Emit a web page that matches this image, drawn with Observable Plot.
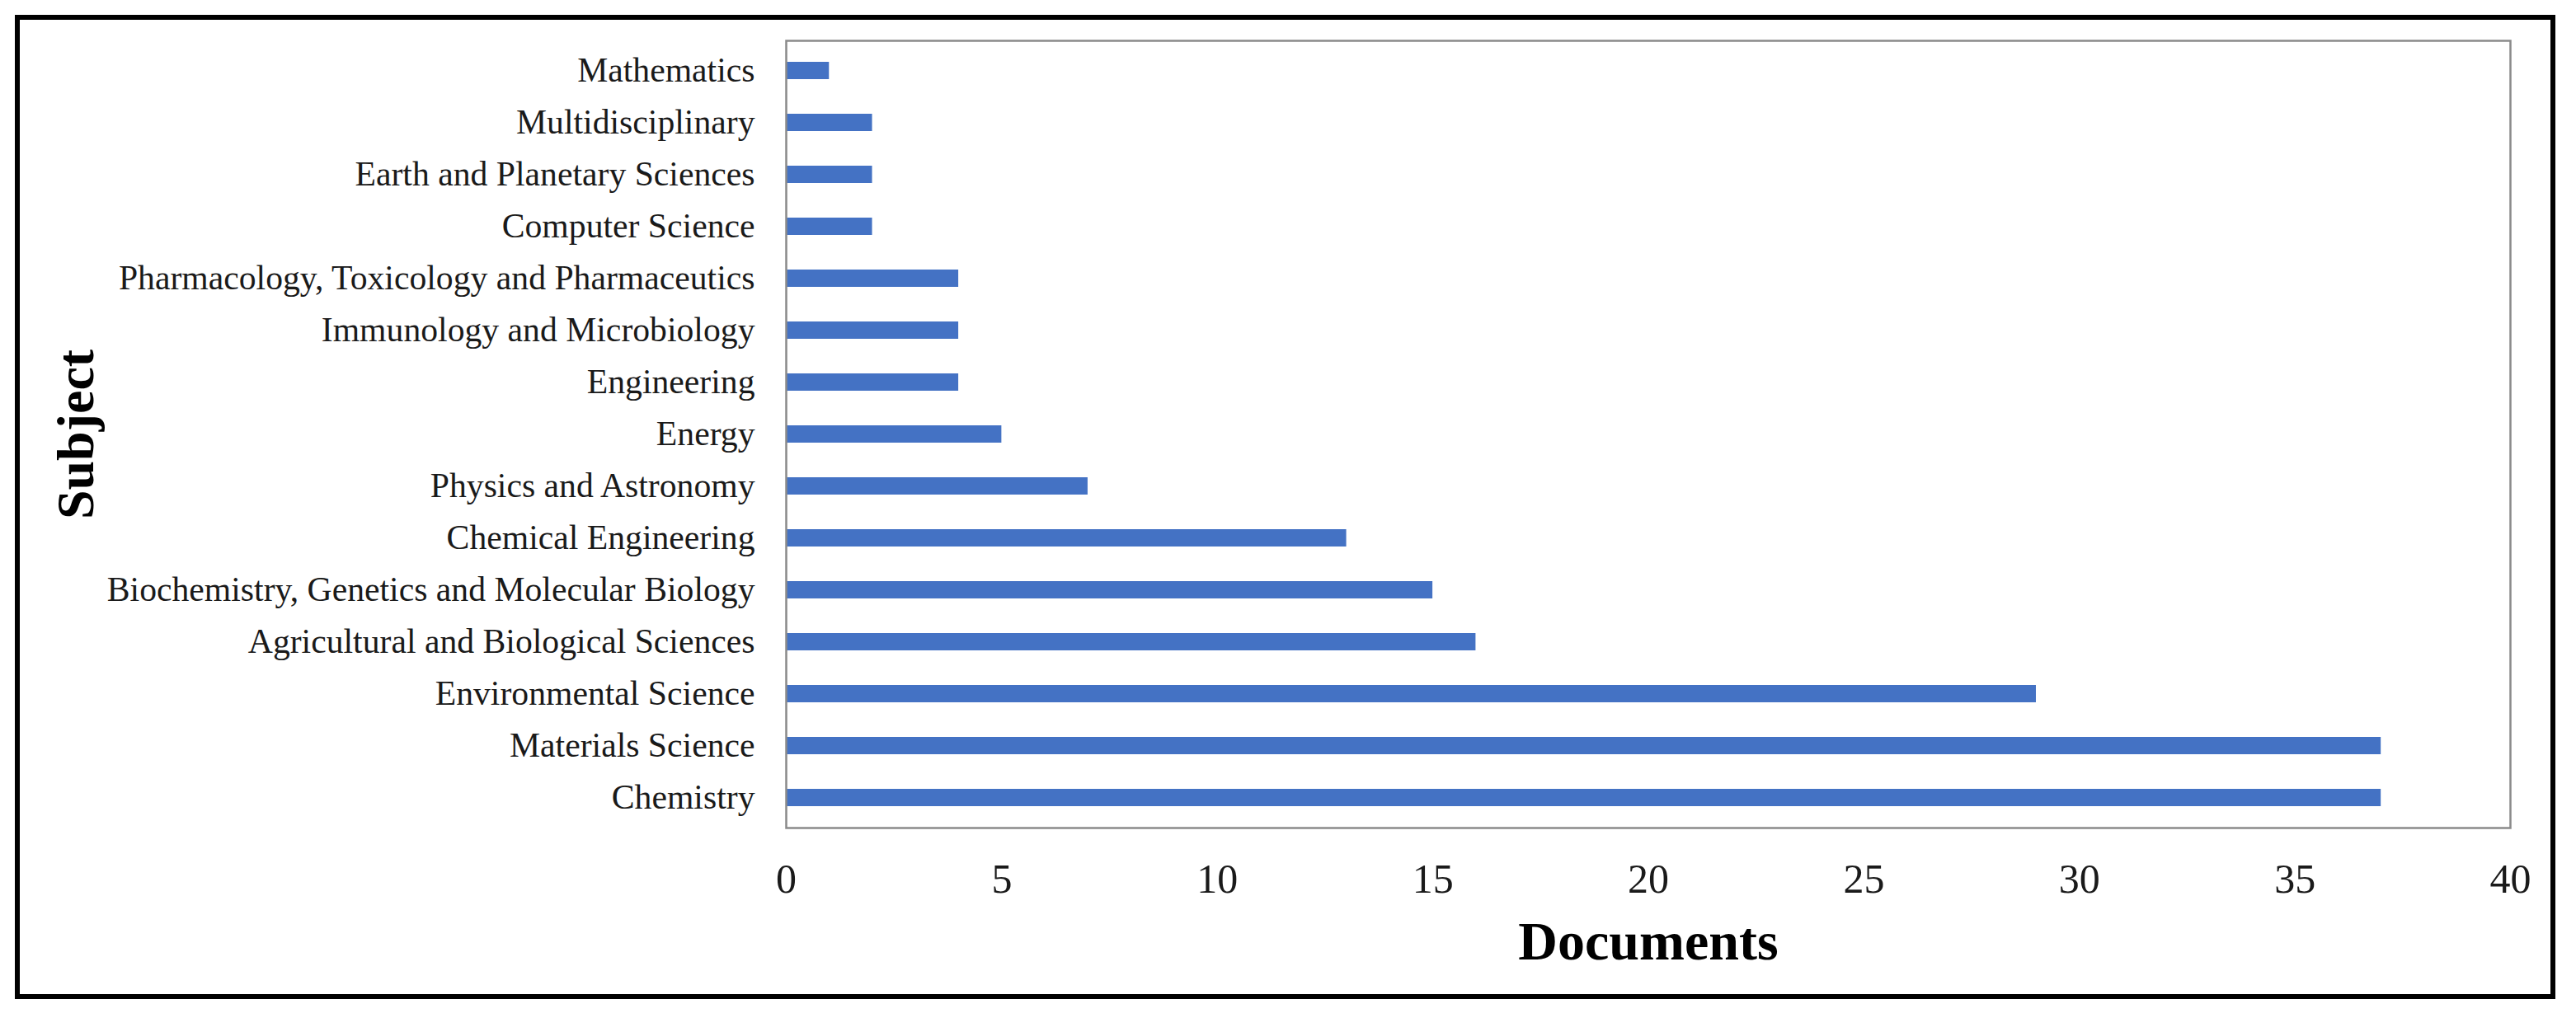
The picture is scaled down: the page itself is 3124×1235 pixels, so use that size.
<!DOCTYPE html>
<html>
<head>
<meta charset="utf-8">
<script src="https://cdn.jsdelivr.net/npm/d3@7"></script>
<script src="https://cdn.jsdelivr.net/npm/@observablehq/plot@0.6"></script>
<style>
  html, body { margin: 0; padding: 0; background: #fff; }
  #wrap { position: relative; width: 3124px; height: 1235px; }
  #border { position: absolute; left: 18px; top: 18px; width: 3081px; height: 1194px; border: 6px solid #000; box-sizing: border-box; pointer-events: none; }
  #chart { position: absolute; left: 0; top: 0; }
</style>
</head>
<body>
<div id="wrap"><div id="chart"></div><div id="border"></div></div>
<script>
const subjects = [
  "Mathematics",
  "Multidisciplinary",
  "Earth and Planetary Sciences",
  "Computer Science",
  "Pharmacology, Toxicology and Pharmaceutics",
  "Immunology and Microbiology",
  "Engineering",
  "Energy",
  "Physics and Astronomy",
  "Chemical Engineering",
  "Biochemistry, Genetics and Molecular Biology",
  "Agricultural and Biological Sciences",
  "Environmental Science",
  "Materials Science",
  "Chemistry"
];
const documents = [1, 2, 2, 2, 4, 4, 4, 5, 7, 13, 15, 16, 29, 37, 37];
const xTicks = [0, 5, 10, 15, 20, 25, 30, 35, 40];
const xTitle = "Documents";
const yTitle = "Subject";

const data = subjects.map((s, i) => ({subject: s, documents: documents[i]}));

const chart = Plot.plot({
  width: 3124,
  height: 1235,
  marginLeft: 953,
  marginRight: 80,
  marginTop: 49,
  marginBottom: 231,
  style: {fontFamily: "'Liberation Serif', 'Times New Roman', serif", background: "transparent", color: "#1a1a1a"},
  x: {domain: [0, 40]},
  y: {domain: subjects, paddingInner: 0.667, paddingOuter: 0.333},
  marks: [
    Plot.barX(data, {x: "documents", y: "subject", fill: "#4472C4"}),
    Plot.frame({stroke: "#8a8a8a", strokeWidth: 2.5}),
    Plot.axisY({tickSize: 0, tickPadding: 38, fontSize: 41.7, label: null}),
    Plot.axisX({ticks: xTicks, tickFormat: d => String(d), tickSize: 0, tickPadding: 43, fontSize: 50, label: null}),
    Plot.text([xTitle], {frameAnchor: "bottom", text: d => d, dy: 138, fontSize: 66, fontWeight: "bold", lineAnchor: "middle", fill: "#000"}),
    Plot.text([yTitle], {frameAnchor: "left", text: d => d, dx: -861, rotate: -90, fontSize: 64, fontWeight: "bold", textAnchor: "middle", lineAnchor: "middle", fill: "#000"})
  ]
});
document.getElementById("chart").appendChild(chart);
</script>
</body>
</html>
